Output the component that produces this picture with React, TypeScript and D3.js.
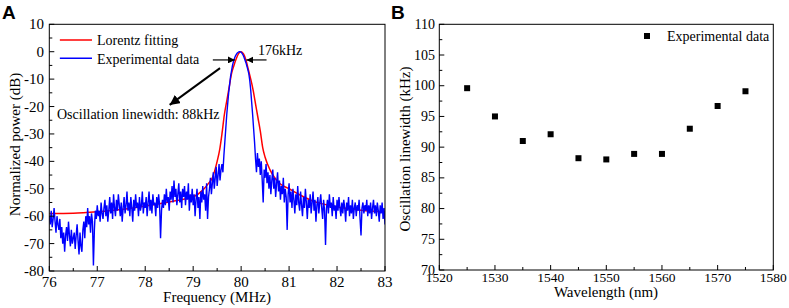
import React from "react";
import * as d3 from "d3";

// ---------- Panel A data ----------
const freqStart = 76;
const freqStep = 0.02;
const blueDb: number[] = [
  -60, -63, -58, -64, -61, -57, -62, -66, -60, -63,
  -65, -61, -68, -64, -70, -66, -73, -67, -64, -69,
  -62, -67, -71, -65, -70, -68, -66, -72, -67, -63,
  -69, -74, -66, -71, -73, -65, -62, -68, -60, -64,
  -57, -63, -60, -66, -59, -62, -78, -65, -58, -61,
  -56, -60, -58, -62, -55, -59, -61, -57, -54, -60,
  -56, -62, -58, -53, -59, -55, -61, -52, -57, -60,
  -54, -58, -52, -56, -60, -55, -62, -57, -53, -59,
  -56, -51, -58, -55, -60, -53, -57, -62, -54, -58,
  -52, -57, -55, -60, -53, -58, -56, -51, -59, -55,
  -57, -53, -60, -55, -51, -58, -54, -59, -52, -56,
  -55, -60, -53, -57, -52, -56, -68, -58, -54, -57,
  -52, -56, -50, -55, -53, -58, -51, -54, -49, -55,
  -47, -53, -50, -56, -52, -48, -55, -51, -57, -50,
  -53, -49, -56, -51, -54, -48, -58, -52, -55, -50,
  -56, -52, -60, -54, -50, -57, -53, -61, -51, -55,
  -49, -54, -52, -58, -48, -61, -53, -50, -46, -52,
  -48, -44, -50, -46, -42, -49, -45, -41, -47, -43,
  -41, -44, -38, -33, -28, -23, -19, -15, -12, -9,
  -7, -5, -3.6, -2.5, -1.6, -1, -0.5, -0.2, 0, 0,
  -0.2, -0.6, -1.2, -2, -3, -4, -5.2, -6.5, -8, -10.5,
  -14, -18.5, -23, -28, -33, -39, -44, -37, -42, -39,
  -45, -40, -47, -55, -43, -46, -41, -48, -44, -50,
  -45, -52, -47, -43, -50, -46, -53, -48, -44, -51,
  -47, -54, -49, -52, -46, -55, -50, -53, -65, -52,
  -48, -55, -51, -57, -50, -54, -59, -52, -56, -49,
  -55, -58, -51, -56, -60, -53, -57, -50, -55, -61,
  -54, -57, -52, -59, -55, -51, -58, -54, -62, -56,
  -53, -59, -55, -52, -57, -61, -54, -58, -70.5, -57,
  -54, -59, -52, -57, -55, -60, -53, -58, -56, -61,
  -54, -58, -53, -57, -60, -55, -59, -54, -57, -62,
  -55, -58, -53, -60, -56, -59, -54, -61, -57, -55,
  -60, -56, -58, -54, -61, -67, -57, -55, -59, -56,
  -58, -54, -60, -56, -59, -55, -61, -57, -54, -59,
  -56, -60, -55, -58, -62, -56, -59, -55, -61, -57,
  -63,
];
const blueFreq: number[] = blueDb.map((_, i) => freqStart + i * freqStep);

const redFreq: number[] = [
  76, 76.5, 77, 77.5, 78, 78.5, 78.8, 79, 79.2, 79.3, 79.4, 79.5, 79.55, 79.6, 79.65,
  79.7, 79.75, 79.8, 79.85, 79.9, 79.95, 80, 80.05, 80.1, 80.15, 80.2, 80.25, 80.3,
  80.35, 80.4, 80.45, 80.5, 80.6, 80.7, 80.8, 81, 81.2, 81.5, 82, 82.5, 83,
];
const redDb: number[] = [
  -59, -58.9, -58.4, -57.6, -56.3, -54.8, -53.8, -53, -50.5, -48.5, -46, -40, -36, -30,
  -23, -18, -13, -8, -5, -2.5, -0.6, 0, -0.8, -3, -6.5, -10, -14, -19, -24, -29, -35,
  -38.5, -43, -46, -48, -50, -52, -54.5, -56.6, -57.8, -58.4,
];

const xTicksA: number[] = [76, 77, 78, 79, 80, 81, 82, 83];
const yTicksA: number[] = [10, 0, -10, -20, -30, -40, -50, -60, -70, -80];

// ---------- Panel B data ----------
const wavelengths: number[] = [1525, 1530, 1535, 1540, 1545, 1550, 1555, 1560, 1565, 1570, 1575];
const linewidths: number[] = [99.6, 95.0, 91.0, 92.1, 88.2, 88.0, 88.9, 88.9, 93.0, 96.7, 99.1];
const xTicksB: number[] = [1520, 1530, 1540, 1550, 1560, 1570, 1580];
const yTicksB: number[] = [70, 75, 80, 85, 90, 95, 100, 105, 110];

const serif = "'Liberation Serif', 'Times New Roman', serif";

export default function App() {
  // Panel A scales
  const ax = d3.scaleLinear().domain([76, 83]).range([49.3, 385]);
  const ay = d3.scaleLinear().domain([-80, 10]).range([271, 24.3]);
  // Panel B scales
  const bx = d3.scaleLinear().domain([1520, 1580]).range([439.3, 773.3]);
  const by = d3.scaleLinear().domain([70, 110]).range([270, 24.3]);

  const blueLine = d3
    .line<number>()
    .x((_, i) => ax(blueFreq[i]))
    .y((d) => ay(d));
  const redLine = d3
    .line<number>()
    .x((_, i) => ax(redFreq[i]))
    .y((d) => ay(d))
    .curve(d3.curveMonotoneX);

  const minorA_x = d3.range(76.5, 83, 1);
  const minorA_y = d3.range(-75, 10, 10);
  const minorB_x = d3.range(1525, 1580, 10);
  const minorB_y = d3.range(72.5, 110, 5);

  const axisStroke = "#000";

  return (
    <svg
      width={789}
      height={308}
      style={{ position: "absolute", left: 0, top: 0, background: "#fff" }}
      fontFamily={serif}
    >
      <defs>
        <clipPath id="clipA">
          <rect x={ax(76)} y={ay(10)} width={ax(83) - ax(76)} height={ay(-80) - ay(10)} />
        </clipPath>
        <marker id="ah" viewBox="0 0 10 10" refX={10} refY={5} markerWidth={7} markerHeight={7} orient="auto" markerUnits="userSpaceOnUse">
          <path d="M0,0 L10,5 L0,10 z" fill="#000" />
        </marker>
        <marker id="ahBig" viewBox="0 0 10 10" refX={10} refY={5} markerWidth={10} markerHeight={10} orient="auto" markerUnits="userSpaceOnUse">
          <path d="M0,0 L10,5 L0,10 z" fill="#000" />
        </marker>
      </defs>

      {/* Panel labels */}
      <text x={2} y={19} fontFamily="'Liberation Sans', Arial, sans-serif" fontWeight="bold" fontSize={19}>A</text>
      <text x={391} y={19} fontFamily="'Liberation Sans', Arial, sans-serif" fontWeight="bold" fontSize={19}>B</text>

      {/* ---------------- Panel A ---------------- */}
      <g clipPath="url(#clipA)">
        <path d={redLine(redDb) || ""} fill="none" stroke="#ff0000" strokeWidth={1.5} />
        <path d={blueLine(blueDb) || ""} fill="none" stroke="#0000ff" strokeWidth={1.4} />
      </g>
      <rect x={ax(76)} y={ay(10)} width={ax(83) - ax(76)} height={ay(-80) - ay(10)} fill="none" stroke={axisStroke} strokeWidth={1} />
      {xTicksA.map((t) => (
        <g key={"axt" + t}>
          <line x1={ax(t)} x2={ax(t)} y1={ay(-80)} y2={ay(-80) - 5} stroke={axisStroke} />
          <text x={ax(t)} y={287} textAnchor="middle" fontSize={15}>{t}</text>
        </g>
      ))}
      {minorA_x.map((t) => (
        <line key={"axm" + t} x1={ax(t)} x2={ax(t)} y1={ay(-80)} y2={ay(-80) - 3} stroke={axisStroke} />
      ))}
      {yTicksA.map((t) => (
        <g key={"ayt" + t}>
          <line x1={ax(76)} x2={ax(76) + 5} y1={ay(t)} y2={ay(t)} stroke={axisStroke} />
          <text x={44} y={ay(t) + 5} textAnchor="end" fontSize={15}>{t}</text>
        </g>
      ))}
      {minorA_y.map((t) => (
        <line key={"aym" + t} x1={ax(76)} x2={ax(76) + 3} y1={ay(t)} y2={ay(t)} stroke={axisStroke} />
      ))}
      <text x={217} y={302} textAnchor="middle" fontSize={15}>Frequency (MHz)</text>
      <text transform={`translate(20,144.5) rotate(-90)`} textAnchor="middle" fontSize={15}>Normalized power (dB)</text>

      {/* Legend A */}
      <line x1={ax(76.22)} x2={ax(76.89)} y1={40} y2={40} stroke="#ff0000" strokeWidth={1.5} />
      <text x={97} y={45} fontSize={14}>Lorentz fitting</text>
      <line x1={ax(76.22)} x2={ax(76.89)} y1={58.3} y2={58.3} stroke="#0000ff" strokeWidth={1.5} />
      <text x={97} y={63.5} fontSize={14}>Experimental data</text>

      {/* Annotations A */}
      <line x1={ax(79.41)} x2={ax(79.87)} y1={ay(-3)} y2={ay(-3)} stroke="#000" strokeWidth={1.2} markerEnd="url(#ah)" />
      <line x1={ax(80.53)} x2={ax(80.11)} y1={ay(-3)} y2={ay(-3)} stroke="#000" strokeWidth={1.2} markerEnd="url(#ah)" />
      <text x={ax(80.35)} y={ay(-1.2)} fontSize={14}>176kHz</text>
      <line x1={ax(79.56)} y1={ay(-6)} x2={ax(78.51)} y2={ay(-19.4)} stroke="#000" strokeWidth={2} markerEnd="url(#ahBig)" />
      <text x={ax(76.16)} y={ay(-24.5)} fontSize={14}>Oscillation linewidth: 88kHz</text>

      {/* ---------------- Panel B ---------------- */}
      <rect x={bx(1520)} y={by(110)} width={bx(1580) - bx(1520)} height={by(70) - by(110)} fill="none" stroke={axisStroke} strokeWidth={1} />
      {xTicksB.map((t) => (
        <g key={"bxt" + t}>
          <line x1={bx(t)} x2={bx(t)} y1={by(70)} y2={by(70) - 5} stroke={axisStroke} />
          <text x={bx(t)} y={282} textAnchor="middle" fontSize={13.5}>{t}</text>
        </g>
      ))}
      {minorB_x.map((t) => (
        <line key={"bxm" + t} x1={bx(t)} x2={bx(t)} y1={by(70)} y2={by(70) - 3} stroke={axisStroke} />
      ))}
      {yTicksB.map((t) => (
        <g key={"byt" + t}>
          <line x1={bx(1520)} x2={bx(1520) + 5} y1={by(t)} y2={by(t)} stroke={axisStroke} />
          <text x={435} y={by(t) + 4.5} textAnchor="end" fontSize={14}>{t}</text>
        </g>
      ))}
      {minorB_y.map((t) => (
        <line key={"bym" + t} x1={bx(1520)} x2={bx(1520) + 3} y1={by(t)} y2={by(t)} stroke={axisStroke} />
      ))}
      {wavelengths.map((w, i) => (
        <rect key={"pt" + w} x={bx(w) - 3} y={by(linewidths[i]) - 3} width={6} height={6} fill="#000" />
      ))}
      <text x={606} y={297} textAnchor="middle" fontSize={15}>Wavelength (nm)</text>
      <text transform={`translate(410,149) rotate(-90)`} textAnchor="middle" fontSize={15}>Oscillation linewidth (kHz)</text>

      {/* Legend B */}
      <rect x={644} y={33} width={6} height={6} fill="#000" />
      <text x={667} y={41} fontSize={14}>Experimental data</text>
    </svg>
  );
}
